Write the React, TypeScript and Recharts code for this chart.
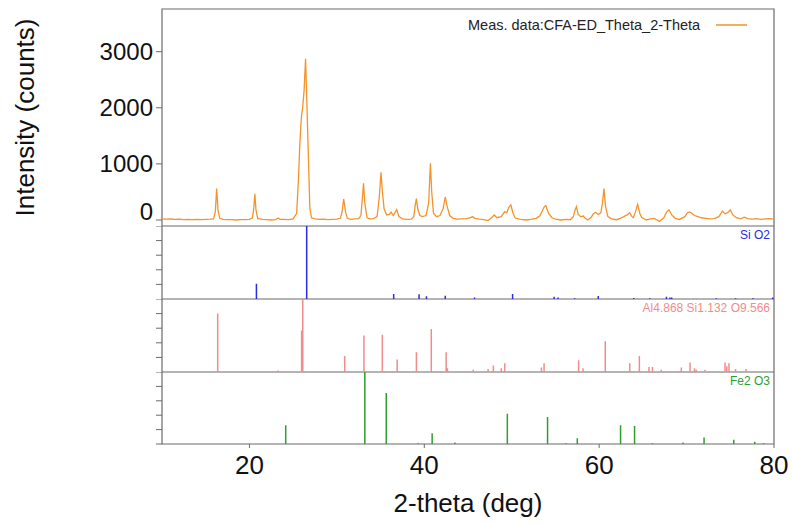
import React from 'react';
import { LineChart, Line, XAxis, YAxis, ReferenceArea, Legend } from 'recharts';

// measured pattern: [2-theta, counts]
const measured: [number, number][] = [
  [10.0, 20], [10.5, 15], [11.0, 18], [11.5, 10], [12.0, 14], [12.5, 8], [13.0, 12], [13.5, 5],
  [14.0, 10], [14.5, 8], [15.0, 12], [15.5, 15], [15.9, 20], [16.1, 150], [16.25, 560], [16.4, 180],
  [16.6, 30], [17.0, 12], [17.5, 8], [18.0, 5], [18.5, 0], [19.0, 8], [19.5, 5], [20.0, 12],
  [20.35, 40], [20.5, 220], [20.62, 465], [20.75, 180], [20.95, 25], [21.5, 10], [22.0, 5], [22.5, 0],
  [23.0, 8], [23.3, 35], [23.5, 10], [24.0, 12], [24.5, 5], [25.0, 20], [25.4, 120], [25.6, 700],
  [25.77, 1370], [25.95, 1850], [26.08, 1990], [26.25, 2300], [26.42, 2875], [26.55, 2200], [26.72, 1250],
  [26.91, 215], [27.1, 40], [27.5, 20], [28.0, 10], [28.5, 15], [29.0, 5], [29.5, 10], [30.0, 15],
  [30.4, 30], [30.6, 150], [30.78, 375], [31.0, 140], [31.2, 30], [31.6, 12], [32.0, 20], [32.5, 25],
  [32.75, 80], [32.9, 350], [33.05, 655], [33.2, 300], [33.45, 40], [33.8, 20], [34.2, 25], [34.6, 60],
  [34.85, 400], [35.05, 850], [35.2, 520], [35.4, 200], [35.7, 90], [36.0, 100], [36.2, 140], [36.45, 80],
  [36.85, 185], [37.1, 60], [37.5, 20], [38.0, 10], [38.5, 15], [38.8, 60], [38.95, 250], [39.1, 380],
  [39.25, 200], [39.5, 80], [39.8, 60], [40.2, 80], [40.5, 300], [40.7, 1010], [40.85, 500], [41.05, 120],
  [41.4, 60], [41.8, 80], [42.15, 200], [42.4, 410], [42.6, 250], [42.9, 80], [43.3, 30], [43.8, 15],
  [44.3, 20], [44.8, 25], [45.3, 40], [45.5, 60], [45.8, 30], [46.3, 15], [46.8, 5], [47.3, -10],
  [47.7, 40], [48.0, 90], [48.3, 40], [48.8, 60], [49.2, 150], [49.45, 130], [49.65, 220], [49.9, 268],
  [50.15, 120], [50.4, 35], [51.0, 10], [51.7, 0], [52.3, 15], [52.8, 30], [53.2, 70], [53.5, 160],
  [53.7, 230], [53.9, 255], [54.2, 120], [54.6, 40], [55.0, 15], [55.6, 0], [56.2, 10], [56.7, 5],
  [57.05, 60], [57.25, 180], [57.4, 238], [57.6, 100], [57.9, 60], [58.2, 70], [58.4, 30], [58.7, 0],
  [59.1, 50], [59.35, 110], [59.6, 138], [59.9, 100], [60.2, 130], [60.38, 300], [60.55, 560], [60.72, 250],
  [61.0, 60], [61.4, 20], [62.0, 5], [62.4, 30], [62.7, 50], [63.2, 90], [63.5, 130], [63.75, 60],
  [63.9, 40], [64.15, 140], [64.4, 280], [64.65, 120], [64.85, 50], [65.4, 0], [65.9, 20], [66.3, 30],
  [66.9, -25], [67.4, 40], [67.75, 150], [68.0, 180], [68.3, 90], [68.7, 30], [69.2, 10], [69.8, 60],
  [70.1, 130], [70.35, 143], [70.6, 120], [70.9, 80], [71.3, 60], [71.7, 40], [72.2, 30], [72.7, 20],
  [73.2, 25], [73.7, 60], [74.1, 160], [74.4, 110], [74.7, 130], [75.0, 180], [75.3, 90], [75.7, 40],
  [76.2, 20], [76.6, 50], [77.0, 25], [77.5, 15], [78.0, 25], [78.5, 10], [79.0, 20], [79.5, 25],
  [80.0, 15],
];

// reference patterns: [2-theta, relative intensity]
const quartz: [number, number][] = [
  [20.8, 21], [26.55, 100], [36.5, 7], [39.4, 6.5], [40.25, 3.7], [42.4, 4.5], [45.75, 2], [50.1, 7],
  [54.85, 3], [55.3, 2], [57.2, 1], [59.9, 4], [63.95, 1.5], [65.8, 1], [67.7, 3], [68.1, 2],
  [68.3, 2], [73.4, 1], [75.6, 1], [77.6, 1], [79.85, 2],
];

const mullite: [number, number][] = [
  [16.37, 80], [23.3, 2], [25.97, 57], [26.1, 100], [30.9, 22], [33.1, 50], [35.2, 51], [36.9, 17],
  [39.1, 27], [40.8, 59], [42.5, 27], [42.65, 5], [45.6, 3], [47.3, 4], [47.9, 9], [48.8, 5],
  [49.2, 12], [53.4, 6], [53.7, 12], [57.65, 16], [58.15, 5], [60.7, 42], [63.5, 12], [64.6, 22],
  [65.7, 7], [66.1, 7], [67.1, 3], [69.4, 6], [70.4, 13], [70.9, 5], [71.1, 3], [72.1, 3],
  [74.4, 13], [74.6, 8], [74.85, 12], [75.6, 4], [76.8, 4],
];

const hematite: [number, number][] = [
  [24.15, 26], [33.2, 100], [35.65, 71], [39.3, 1], [40.9, 15], [43.5, 2], [49.5, 42], [54.1, 37.5],
  [56.2, 1], [57.5, 8], [62.45, 26], [64.05, 25], [66.1, 1], [69.6, 2], [72.0, 9], [75.4, 6],
  [77.8, 3], [78.8, 1],
];

const xTicks = [20, 40, 60, 80];
const countTicks = [0, 1000, 2000, 3000];
const refTicks = [20, 40, 60, 80, 100];
const refTicksLast = [0, 20, 40, 60, 80, 100];

const FONT = '"Liberation Sans", Arial, sans-serif';
const AXIS = '#6b6b6b';
const ORANGE = '#f5922b';
const X_DOMAIN: [number, number] = [10, 80];
const COUNT_DOMAIN: [number, number] = [-107, 3761];
const REF_DOMAIN: [number, number] = [0, 100];

const measRows = measured.map(([x, y]) => ({ x, y }));

// each stick becomes a vertical segment, broken from the next by a null
function toSticks(list: [number, number][]) {
  const rows: { x: number; y: number | null }[] = [];
  list.forEach(([x, h]) => {
    rows.push({ x, y: 0 });
    rows.push({ x, y: h });
    rows.push({ x, y: null });
  });
  return rows;
}

function CountTick(props: any) {
  const { x, y, payload } = props;
  const lift = payload.value === 0 ? -8 : 0;
  return (
    <text x={x} y={y + lift} dy="0.35em" textAnchor="end" fontSize={24} fill="#111" fontFamily={FONT}>
      {payload.value}
    </text>
  );
}

const renderLegend = () => (
  <div style={{ display: 'flex', alignItems: 'center', fontSize: 14.5, color: '#222', fontFamily: FONT, whiteSpace: 'nowrap' }}>
    <span>Meas. data:CFA-ED_Theta_2-Theta</span>
    <svg width={31} height={4} style={{ marginLeft: 16 }}>
      <line x1={0} y1={2} x2={31} y2={2} stroke={ORANGE} strokeWidth={1.5} />
    </svg>
  </div>
);

interface StickPanelProps {
  sticks: [number, number][];
  color: string;
  name: string;
  top: number;
  last?: boolean;
}

function StickPanel({ sticks, color, name, top, last }: StickPanelProps) {
  const axisHeight = last ? 75 : 0;
  return (
    <div style={{ position: 'absolute', left: 0, top }}>
      <LineChart width={792} height={73 + axisHeight - (last ? 1 : 0)} data={toSticks(sticks)} margin={{ top: 0, right: 18, bottom: 0, left: 0 }}>
        {last ? (
          <XAxis
            type="number"
            dataKey="x"
            domain={X_DOMAIN}
            ticks={xTicks}
            interval={0}
            allowDataOverflow
            axisLine={false}
            tickSize={4}
            tickMargin={8}
            tickLine={{ stroke: AXIS }}
            tick={{ fontSize: 26, fill: '#111', fontFamily: FONT }}
            height={axisHeight}
            label={{ value: '2-theta (deg)', position: 'insideBottom', offset: 7, fontSize: 26, fill: '#111', fontFamily: FONT }}
          />
        ) : (
          <XAxis type="number" dataKey="x" domain={X_DOMAIN} allowDataOverflow hide />
        )}
        <YAxis
          type="number"
          width={162}
          domain={REF_DOMAIN}
          ticks={last ? refTicksLast : refTicks}
          interval={0}
          allowDataOverflow
          axisLine={false}
          tickSize={6}
          tickLine={{ stroke: AXIS }}
          tickFormatter={() => ''}
        />
        <ReferenceArea
          x1={10}
          x2={80}
          y1={0}
          y2={100}
          fill="none"
          stroke={AXIS}
          strokeWidth={1.2}
          ifOverflow="visible"
          label={{ value: name, position: 'insideTopRight', offset: 4, fontSize: 12, fill: color, fontFamily: FONT }}
        />
        <Line
          dataKey="y"
          stroke={color}
          strokeWidth={1.5}
          dot={false}
          activeDot={false}
          connectNulls={false}
          isAnimationActive={false}
        />
      </LineChart>
    </div>
  );
}

export default function App() {
  return (
    <div style={{ position: 'absolute', left: 0, top: 0, width: 792, height: 523, background: '#fff', fontFamily: FONT }}>
      <div style={{ position: 'absolute', left: 0, top: 0 }}>
        <LineChart width={792} height={226} data={measRows} margin={{ top: 9, right: 18, bottom: 0, left: 0 }}>
          <XAxis type="number" dataKey="x" domain={X_DOMAIN} allowDataOverflow hide />
          <YAxis
            type="number"
            width={162}
            domain={COUNT_DOMAIN}
            ticks={countTicks}
            interval={0}
            allowDataOverflow
            axisLine={false}
            tickSize={6}
            tickMargin={3}
            tickLine={{ stroke: AXIS }}
            tick={<CountTick />}
            label={{
              value: 'Intensity (counts)',
              angle: -90,
              position: 'insideLeft',
              offset: 25,
              fontSize: 26,
              fill: '#111',
              fontFamily: FONT,
              style: { textAnchor: 'middle' },
            }}
          />
          <ReferenceArea
            x1={10}
            x2={80}
            y1={COUNT_DOMAIN[0]}
            y2={COUNT_DOMAIN[1]}
            fill="none"
            stroke={AXIS}
            strokeWidth={1.2}
            ifOverflow="visible"
          />
          <Line
            dataKey="y"
            type="linear"
            stroke={ORANGE}
            strokeWidth={1.3}
            dot={false}
            activeDot={false}
            isAnimationActive={false}
          />
          <Legend
            layout="horizontal"
            verticalAlign="middle"
            align="center"
            content={renderLegend}
            wrapperStyle={{ top: 17, left: 468, width: 320 }}
          />
        </LineChart>
      </div>
      <StickPanel sticks={quartz} color="#2b2be0" name="Si O2" top={226} />
      <StickPanel sticks={mullite} color="#f08c8c" name="Al4.868 Si1.132 O9.566" top={299} />
      <StickPanel sticks={hematite} color="#2e9e2e" name="Fe2 O3" top={372} last />
    </div>
  );
}
